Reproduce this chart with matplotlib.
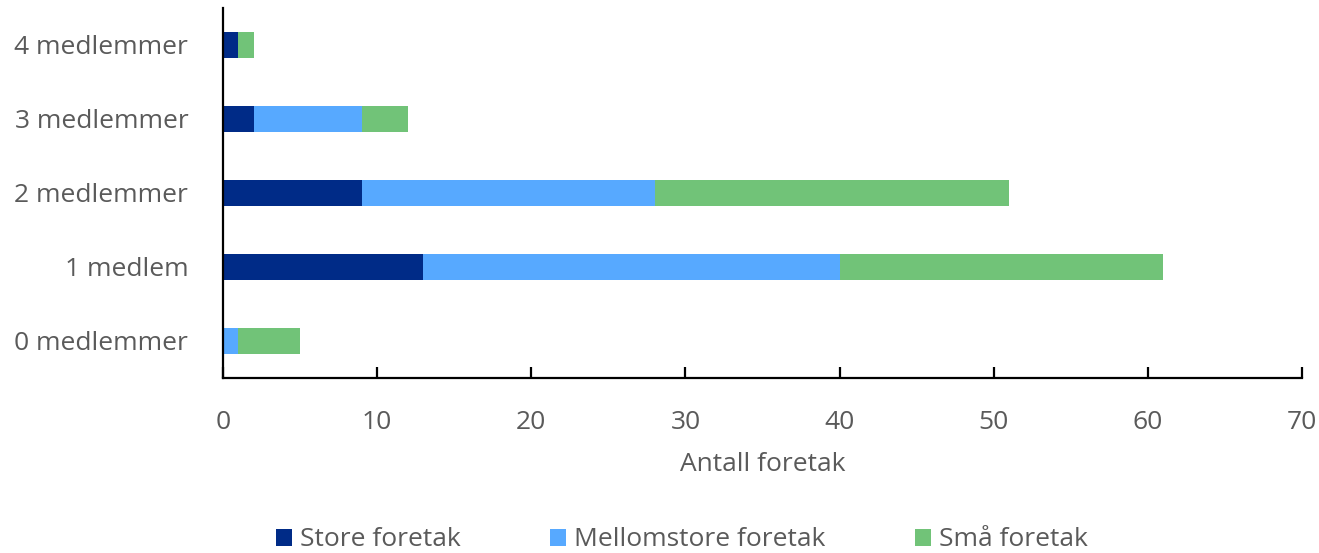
import matplotlib.pyplot as plt
import numpy as np

plt.rcParams['font.family'] = ['Open Sans', 'DejaVu Sans']

categories = ['0 medlemmer', '1 medlem', '2 medlemmer', '3 medlemmer', '4 medlemmer']
store = [0, 13, 9, 2, 1]
mellomstore = [1, 27, 19, 7, 0]
sma = [4, 21, 23, 3, 1]

series = [
    ('Store foretak', store, '#002B87'),
    ('Mellomstore foretak', mellomstore, '#57A9FF'),
    ('Små foretak', sma, '#71C378'),
]

text_color = '#5a5a5a'
fs = 19

fig = plt.figure(figsize=(13.19, 5.53), dpi=100)
ax = fig.add_axes([223 / 1319, 1 - 378 / 553, (1302 - 223) / 1319, 370 / 553])

y = np.arange(len(categories))
left = np.zeros(len(categories))
for name, vals, color in series:
    ax.barh(y, vals, left=left, height=0.35, color=color, label=name, linewidth=0)
    left += np.array(vals)

ax.set_xlim(0, 70)
ax.set_ylim(-0.5, 4.5)
ax.set_xticks(range(0, 71, 10))
ax.set_yticks(y)
ax.set_yticklabels(categories)

for side in ['top', 'right']:
    ax.spines[side].set_visible(False)
for side in ['left', 'bottom']:
    ax.spines[side].set_linewidth(1.6)
    ax.spines[side].set_color('black')

ax.tick_params(axis='x', direction='in', length=8, width=1.6, pad=23,
               labelsize=fs, labelcolor=text_color)
ax.tick_params(axis='y', length=0, pad=25, labelsize=fs, labelcolor=text_color)
ax.set_xlabel('Antall foretak', fontsize=fs, color=text_color, labelpad=12)

fig.legend(loc='center', bbox_to_anchor=(0.517, 1 - 540 / 553), ncol=3,
           frameon=False, fontsize=fs, labelcolor=text_color,
           handlelength=0.6, handleheight=0.6, handletextpad=0.3,
           columnspacing=3.4)

fig.savefig('out.png', dpi=100)
